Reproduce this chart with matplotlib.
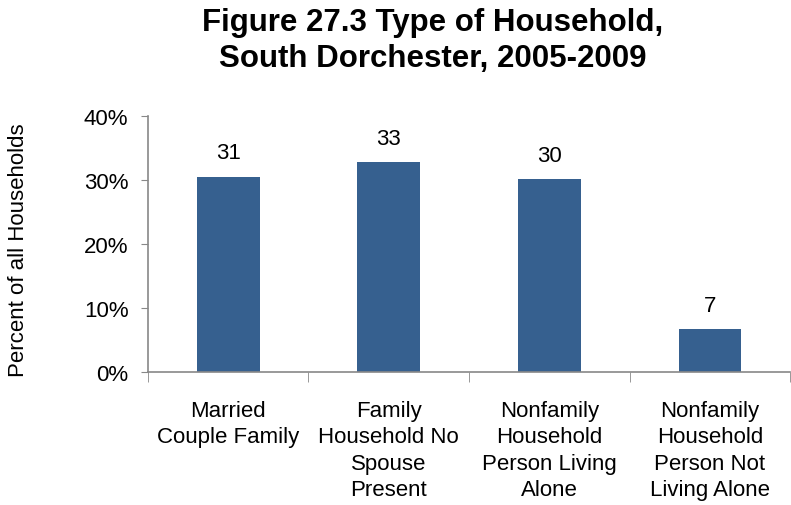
import matplotlib.pyplot as plt
import numpy as np

categories = ["Married\nCouple Family", "Family\nHousehold No\nSpouse\nPresent",
              "Nonfamily\nHousehold\nPerson Living\nAlone", "Nonfamily\nHousehold\nPerson Not\nLiving Alone"]
values = [30.5, 32.8, 30.1, 6.7]
labels = ["31", "33", "30", "7"]
yticks = [0, 10, 20, 30, 40]

plt.rcParams['font.family'] = ['Liberation Sans', 'DejaVu Sans']

fig = plt.figure(figsize=(7.91, 5.06), dpi=100)
ax = fig.add_axes([0.187, 0.263, 0.812, 0.506])

x = np.arange(len(categories))
ax.bar(x, values, width=0.39, color='#36608F')
for xi, v, lab in zip(x, values, labels):
    ax.text(xi, v + 2.1, lab, ha='center', va='bottom', fontsize=16)

ax.set_xlim(-0.5, len(categories) - 0.5)
ax.set_ylim(0, 40)
ax.set_yticks(yticks)
ax.set_yticklabels([f"{t}%" for t in yticks], fontsize=16)
ax.set_xticks(x)
ax.set_xticklabels(categories, fontsize=16, linespacing=1.34)
ax.tick_params(axis='x', length=0, pad=20)
ax.set_xticks(np.arange(len(categories) + 1) - 0.5, minor=True)
ax.tick_params(axis='x', which='minor', length=7, color='#888888')
ax.tick_params(axis='y', length=5, color='#888888', pad=9)

for s in ['top', 'right']:
    ax.spines[s].set_visible(False)
for s in ['left', 'bottom']:
    ax.spines[s].set_color('#888888')
    ax.spines[s].set_linewidth(1.2)

ax.set_ylabel("Percent of all Households", fontsize=16)
ax.yaxis.set_label_coords(-0.185, 0.48)
fig.suptitle("Figure 27.3 Type of Household,\nSouth Dorchester, 2005-2009",
             fontsize=22.5, fontweight='bold', x=0.547, y=0.984, linespacing=1.24)

fig.savefig("out.png", dpi=100)
